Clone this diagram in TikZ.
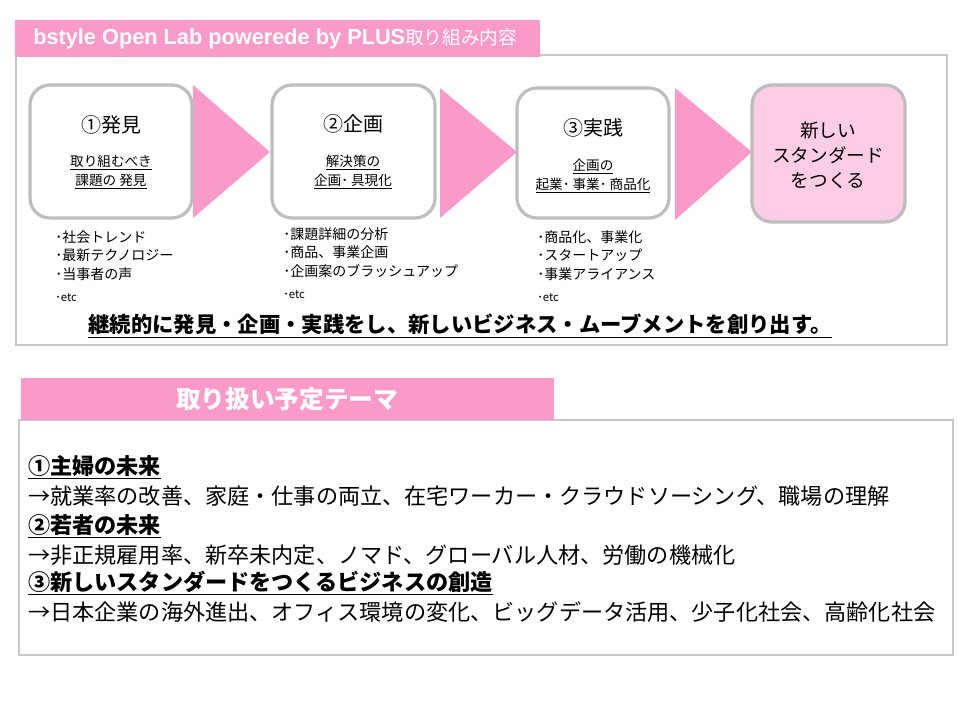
\documentclass[tikz,border=0pt]{standalone}
\usepackage{fontspec}
\setmainfont{Noto Sans CJK JP}
\newfontfamily\latinb{Liberation Sans}
\definecolor{barpink}{RGB}{249,154,201}
\definecolor{lightpink}{RGB}{252,205,229}
\definecolor{boxgray}{RGB}{190,190,190}
\definecolor{framegray}{RGB}{200,200,200}
\begin{document}
\begin{tikzpicture}[x=0.75pt,y=-0.75pt,
  pxsize/.style 2 args={minimum width=#1*0.75pt, minimum height=#2*0.75pt},
  frame/.style={draw=framegray, line width=0.9pt, inner sep=0},
  bar/.style={fill=barpink, inner sep=0},
  stagebox/.style={draw=boxgray, line width=2.4pt, rounded corners=15pt, fill=white, inner sep=0},
  goalbox/.style={stagebox, fill=lightpink},
  arrowtri/.style={fill=barpink, draw=none},
  title/.style={font=\fontsize{15}{18}\selectfont, inner sep=0},
  sub/.style={font=\fontsize{10.2}{14.3}\selectfont, align=center, inner sep=0},
  goaltext/.style={font=\fontsize{14}{18.8}\selectfont, align=center, inner sep=0},
  list/.style={font=\fontsize{10.5}{14.2}\selectfont, align=left, anchor=north west, inner sep=0},
  theme/.style={font=\fontsize{16.6}{20}\selectfont, anchor=west, inner sep=0},
  themehead/.style={theme, font=\fontsize{16.6}{20}\selectfont\bfseries},
]
\useasboundingbox (0,0) rectangle (960,720);
\fill[white] (0,0) rectangle (960,720);

% ---------- section 1 ----------
\node[frame, pxsize={931}{290}] (frame1) at (481.5,200) {};
\node[bar, pxsize={525}{37}] (hdr1) at (277.5,38.5) {};
\node[anchor=west, inner sep=0, text=white] (hdr1t) at (33,39)
  {{\latinb\bfseries\fontsize{16.3}{18}\selectfont bstyle Open Lab powerede by PLUS}{\fontsize{14}{18}\selectfont 取り組み内容}};

% arrows (triangles)
\fill[arrowtri] (193,85) -- (270,152) -- (193,218) -- cycle;
\fill[arrowtri] (440,88) -- (517,152) -- (440,218) -- cycle;
\fill[arrowtri] (675,88) -- (752,152) -- (675,220) -- cycle;

% stage boxes
\node[stagebox, pxsize={162}{133}] (b1) at (111,151.5) {};
\node[stagebox, pxsize={163}{133}] (b2) at (353.5,151.5) {};
\node[stagebox, pxsize={152}{130}] (b3) at (593,153) {};
\node[goalbox, pxsize={153}{137}] (b4) at (828.5,153.5) {};

\node[title] (t1) at (111,125) {①発見};
\node[sub] (s1) at (111,172) {\underline{取り組むべき}\\\underline{課題の 発見}};
\node[title] (t2) at (353,124) {②企画};
\node[sub] (s2) at (353,172) {\underline{解決策の}\\\underline{企画･ 具現化}};
\node[title] (t3) at (593,128) {③実践};
\node[sub] (s3) at (593,176) {\underline{企画の}\\\underline{起業･ 事業･ 商品化}};
\node[goaltext] (g4) at (828,155) {新しい\\スタンダード\\をつくる};

% lists
\node[list] (l1) at (55,230) {･社会トレンド\\･最新テクノロジー\\･当事者の声\\[2pt]{\fontsize{8.5}{10}\selectfont ･etc}};
\node[list] (l2) at (283,227) {･課題詳細の分析\\･商品、事業企画\\･企画案のブラッシュアップ\\[2pt]{\fontsize{8.5}{10}\selectfont ･etc}};
\node[list] (l3) at (537,230) {･商品化、事業化\\･スタートアップ\\･事業アライアンス\\[2pt]{\fontsize{8.5}{10}\selectfont ･etc}};

\node[inner sep=0, font=\fontsize{16}{19}\selectfont\bfseries] (motto) at (460,326)
  {\underline{継続的に発見・企画・実践をし、新しいビジネス・ムーブメントを創り出す。}};

% ---------- section 2 ----------
\node[frame, pxsize={934}{235}] (frame2) at (486,537.5) {};
\node[bar, pxsize={533}{42}] (hdr2) at (287.5,399) {};
\node[inner sep=0, text=white, font=\fontsize{18.5}{20}\selectfont\bfseries] (hdr2t) at (287,399) {取り扱い予定テーマ};

\node[themehead] (h1) at (28,467) {\underline{①主婦の未来}};
\node[theme] (d1) at (28,496) {→就業率の改善、家庭・仕事の両立、在宅ワーカー・クラウドソーシング、職場の理解};
\node[themehead] (h2) at (28,526) {\underline{②若者の未来}};
\node[theme] (d2) at (28,555) {→非正規雇用率、新卒未内定、ノマド、グローバル人材、労働の機械化};
\node[themehead] (h3) at (28,583) {\underline{③新しいスタンダードをつくるビジネスの創造}};
\node[theme] (d3) at (28,612) {→日本企業の海外進出、オフィス環境の変化、ビッグデータ活用、少子化社会、高齢化社会};
\end{tikzpicture}
\end{document}
